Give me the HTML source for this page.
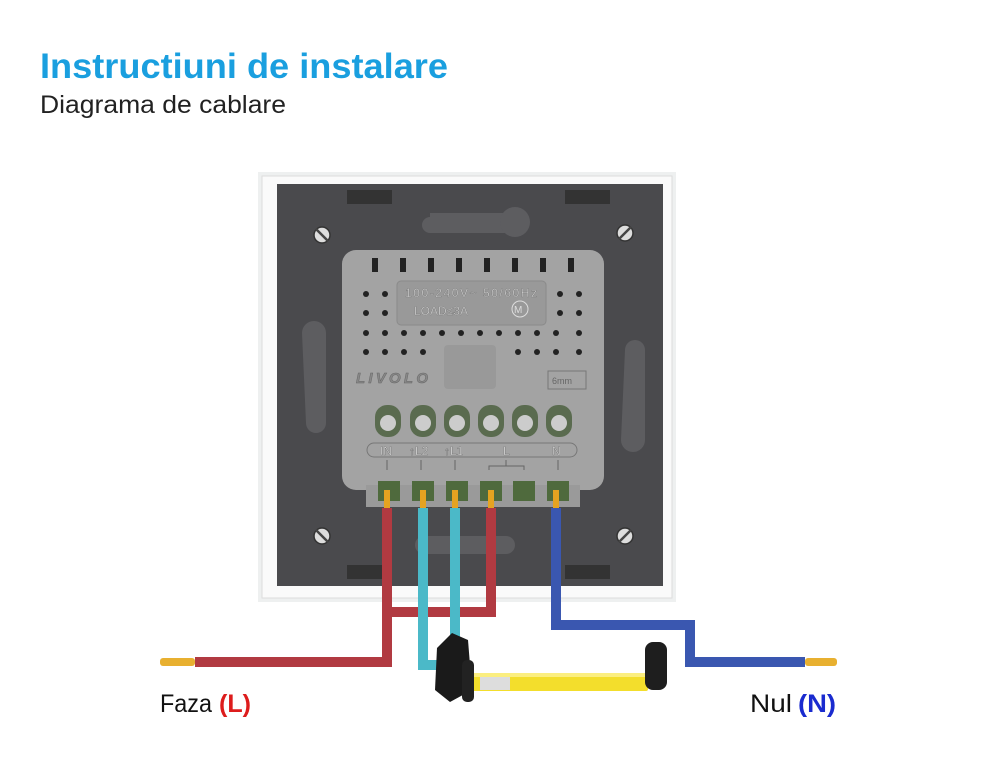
<!DOCTYPE html>
<html><head><meta charset="utf-8"><style>
html,body{margin:0;padding:0;background:#fff;width:1000px;height:772px;overflow:hidden}
svg{display:block}
text{font-family:"Liberation Sans",sans-serif}
</style></head><body>
<svg width="1000" height="772" viewBox="0 0 1000 772" xmlns="http://www.w3.org/2000/svg">
<text x="40" y="78" font-size="35" font-weight="bold" fill="#1a9fdf" textLength="408" lengthAdjust="spacingAndGlyphs">Instructiuni de instalare</text>
<text x="40" y="113" font-size="25" fill="#222" textLength="246" lengthAdjust="spacingAndGlyphs">Diagrama de cablare</text>

<rect x="258" y="172" width="418" height="430" fill="#eef0f0"/>
<rect x="262" y="176" width="410" height="422" fill="#fafafa" stroke="#dcdcdc"/>
<rect x="277" y="184" width="386" height="402" fill="#4a4a4d"/>
<rect x="347" y="190" width="45" height="14" fill="#333"/>
<rect x="565" y="190" width="45" height="14" fill="#333"/>
<rect x="347" y="565" width="45" height="14" fill="#333"/>
<rect x="565" y="565" width="45" height="14" fill="#333"/>
<g fill="#5d5d60">
<path d="M430 213 h80 a10 10 0 0 1 0 20 h-80 a8 8 0 0 1 0-16z"/>
<rect x="500" y="207" width="30" height="30" rx="15"/>
<path d="M302 333 a12 12 0 0 1 24 0 v90 a10 10 0 0 1 -20 0z"/>
<path d="M625 350 a10 10 0 0 1 20 0 v90 a12 12 0 0 1 -24 0z"/>
<rect x="415" y="536" width="100" height="18" rx="9"/>
</g>
<g fill="#ddd" stroke="#333" stroke-width="1.5">
<circle cx="322" cy="235" r="8"/><circle cx="625" cy="233" r="8"/>
<circle cx="322" cy="536" r="8"/><circle cx="625" cy="536" r="8"/>
</g>
<g stroke="#444" stroke-width="2.5">
<line x1="316" y1="229" x2="328" y2="241"/><line x1="631" y1="227" x2="619" y2="239"/>
<line x1="316" y1="530" x2="328" y2="542"/><line x1="631" y1="530" x2="619" y2="542"/>
</g>

<rect x="342" y="250" width="262" height="240" rx="14" fill="#a3a3a3"/>
<rect x="366" y="485" width="214" height="22" fill="#9a9a9a"/>
<g fill="#222">
<rect x="372" y="258" width="6" height="14"/><rect x="400" y="258" width="6" height="14"/>
<rect x="428" y="258" width="6" height="14"/><rect x="456" y="258" width="6" height="14"/>
<rect x="484" y="258" width="6" height="14"/><rect x="512" y="258" width="6" height="14"/>
<rect x="540" y="258" width="6" height="14"/><rect x="568" y="258" width="6" height="14"/>
</g>
<rect x="397" y="281" width="149" height="44" rx="4" fill="#999" stroke="#8a8a8a"/>
<text x="405" y="297" font-size="12" fill="#d4d4d4" stroke="#666" stroke-width="0.3" textLength="132">100-240V~ 50/60Hz</text>
<text x="414" y="315" font-size="12" fill="#d4d4d4" stroke="#666" stroke-width="0.3">LOAD≤3A</text>
<circle cx="520" cy="309" r="8" fill="none" stroke="#ddd"/><text x="514" y="313" font-size="10" fill="#ddd">M</text>
<g fill="#222">
<circle cx="366" cy="294" r="3"/><circle cx="385" cy="294" r="3"/><circle cx="560" cy="294" r="3"/><circle cx="579" cy="294" r="3"/>
<circle cx="366" cy="313" r="3"/><circle cx="385" cy="313" r="3"/><circle cx="560" cy="313" r="3"/><circle cx="579" cy="313" r="3"/>
<circle cx="366" cy="333" r="3"/><circle cx="385" cy="333" r="3"/><circle cx="404" cy="333" r="3"/><circle cx="423" cy="333" r="3"/><circle cx="442" cy="333" r="3"/><circle cx="461" cy="333" r="3"/><circle cx="480" cy="333" r="3"/><circle cx="499" cy="333" r="3"/><circle cx="518" cy="333" r="3"/><circle cx="537" cy="333" r="3"/><circle cx="556" cy="333" r="3"/><circle cx="579" cy="333" r="3"/>
<circle cx="366" cy="352" r="3"/><circle cx="385" cy="352" r="3"/><circle cx="404" cy="352" r="3"/><circle cx="423" cy="352" r="3"/><circle cx="518" cy="352" r="3"/><circle cx="537" cy="352" r="3"/><circle cx="556" cy="352" r="3"/><circle cx="579" cy="352" r="3"/>
</g>
<rect x="444" y="345" width="52" height="44" rx="4" fill="#999"/>
<text x="356" y="383" font-size="15" font-weight="bold" font-style="italic" fill="#888" stroke="#666" stroke-width="0.5" textLength="72">LIVOLO</text>
<rect x="548" y="371" width="38" height="18" fill="none" stroke="#777"/><text x="552" y="384" font-size="9" fill="#666">6mm</text>
<g fill="#5a6b4f"><rect x="375" y="405" width="26" height="32" rx="12"/><rect x="410" y="405" width="26" height="32" rx="12"/><rect x="444" y="405" width="26" height="32" rx="12"/><rect x="478" y="405" width="26" height="32" rx="12"/><rect x="512" y="405" width="26" height="32" rx="12"/><rect x="546" y="405" width="26" height="32" rx="12"/></g>
<g fill="#ccc"><circle cx="388" cy="423" r="8"/><circle cx="423" cy="423" r="8"/><circle cx="457" cy="423" r="8"/><circle cx="491" cy="423" r="8"/><circle cx="525" cy="423" r="8"/><circle cx="559" cy="423" r="8"/></g>
<rect x="367" y="443" width="210" height="14" rx="7" fill="none" stroke="#777"/>
<g font-size="12" fill="#e4e4e4" stroke="#555" stroke-width="0.3"><text x="380" y="455">IN</text><text x="409" y="455">↑L2</text><text x="444" y="455">↑L1</text><text x="503" y="455">L</text><text x="552" y="455">N</text></g>
<g stroke="#666"><line x1="387" y1="460" x2="387" y2="470"/><line x1="421" y1="460" x2="421" y2="470"/><line x1="455" y1="460" x2="455" y2="470"/><line x1="506" y1="460" x2="506" y2="466"/><path d="M489 470 v-4 h35 v4" fill="none"/><line x1="558" y1="460" x2="558" y2="470"/></g>
<g fill="#4f6a3d"><rect x="378" y="481" width="22" height="20"/><rect x="412" y="481" width="22" height="20"/><rect x="446" y="481" width="22" height="20"/><rect x="480" y="481" width="22" height="20"/><rect x="513" y="481" width="22" height="20"/><rect x="547" y="481" width="22" height="20"/></g>

<g fill="none" stroke-width="10" stroke-linejoin="miter">
<path d="M387 508 V662 H195" stroke="#b13a41"/>
<path d="M491 508 V612 H392" stroke="#b13a41"/>
<path d="M423 508 V665 H445" stroke="#4bb9c8"/>
<path d="M455 508 V650" stroke="#4bb9c8"/>
<path d="M556 508 V625 H690 V662 H805" stroke="#3a57b0"/>
</g>
<g fill="#e5a321"><rect x="384" y="490" width="6" height="18"/><rect x="420" y="490" width="6" height="18"/><rect x="452" y="490" width="6" height="18"/><rect x="488" y="490" width="6" height="18"/><rect x="553" y="490" width="6" height="18"/></g>
<rect x="160" y="658" width="35" height="8" rx="3" fill="#e8b030"/>
<rect x="805" y="658" width="32" height="8" rx="3" fill="#e8b030"/>

<rect x="470" y="673" width="178" height="18" rx="2" fill="#f3de2c"/>
<rect x="470" y="673" width="178" height="4" fill="#fbee80"/>
<rect x="480" y="677" width="30" height="13" fill="#ddd"/>
<path d="M437 648 L452 633 L468 640 L472 690 L450 702 L435 690Z" fill="#1a1a1a"/>
<rect x="462" y="660" width="12" height="42" rx="5" fill="#222"/>
<rect x="645" y="642" width="22" height="48" rx="8" fill="#1e1e1e"/>

<text x="160" y="712" font-size="25" fill="#111" textLength="52" lengthAdjust="spacingAndGlyphs">Faza</text>
<text x="219" y="712" font-size="25" font-weight="bold" fill="#dd1c1c" textLength="32" lengthAdjust="spacingAndGlyphs">(L)</text>
<text x="750" y="712" font-size="25" fill="#111" textLength="42" lengthAdjust="spacingAndGlyphs">Nul</text>
<text x="798" y="712" font-size="25" font-weight="bold" fill="#1a2bcf" textLength="38" lengthAdjust="spacingAndGlyphs">(N)</text>
</svg>
</body></html>
